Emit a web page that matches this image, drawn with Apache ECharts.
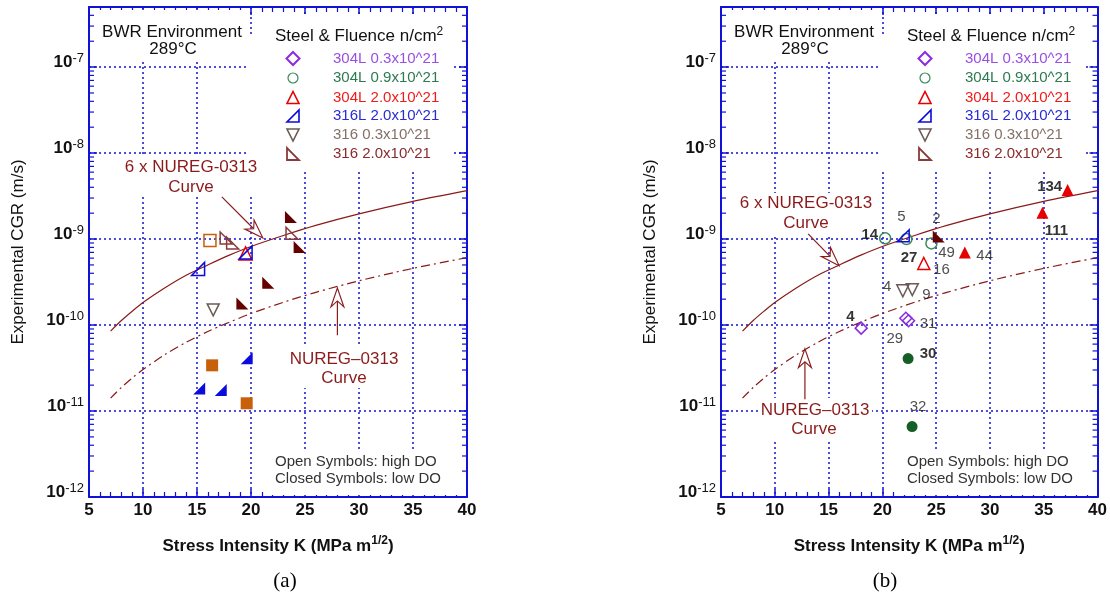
<!DOCTYPE html>
<html><head><meta charset="utf-8">
<script src="https://cdn.jsdelivr.net/npm/echarts@6/dist/echarts.min.js"></script>
<style>html,body{margin:0;padding:0;background:#fff}#c{width:1110px;height:599px}</style>
</head><body><div id="c"></div>
<script>
// ---------- data ----------
const xTickLabels = [5, 10, 15, 20, 25, 30, 35, 40];
const yDecades = [-12, -11, -10, -9, -8, -7];
const minorMult = [2, 3, 4, 5, 6, 7, 8, 9];

// curves
const curveK     = [7, 8, 9, 10, 12, 14, 16, 18, 20, 23, 26, 30, 35, 40];
const curve6x    = [8.5e-11, 1.13e-10, 1.45e-10, 1.83e-10, 2.7e-10, 3.8e-10, 5.0e-10, 6.5e-10, 8.2e-10, 1.1e-9, 1.44e-9, 1.96e-9, 2.74e-9, 3.65e-9];
const curveNureg = [1.41e-11, 1.88e-11, 2.42e-11, 3.04e-11, 4.5e-11, 6.3e-11, 8.4e-11, 1.08e-10, 1.36e-10, 1.84e-10, 2.4e-10, 3.27e-10, 4.56e-10, 6.08e-10];

// chart (a)
const a_304L20_open   = [[19.5, 6.8e-10]];
const a_316L20_open   = [[19.5, 7.0e-10], [15.1, 4.5e-10]];
const a_316L20_closed = [[19.6, 4.1e-11], [15.2, 1.83e-11], [17.2, 1.76e-11]];
const a_316_03_open   = [[16.5, 1.5e-10]];
const a_316_20_open   = [[17.7, 1.03e-9], [18.3, 9.0e-10], [23.8, 1.17e-9]];
const a_316_20_closed = [[23.7, 1.8e-9], [24.5, 8.1e-10], [21.6, 3.1e-10], [19.2, 1.78e-10]];
const a_other_open    = [[16.2, 9.6e-10]];
const a_other_closed  = [[16.4, 3.4e-11], [19.6, 1.23e-11]];
const a_arrows = [[17.3, 3.1e-9, 21.1, 1.03e-9], [28.0, 7.6e-11, 28.0, 2.7e-10]];

// chart (b)
const b_304L03_open   = [[18.03, 9.2e-11], [22.18, 1.2e-10], [22.43, 1.12e-10]];
const b_304L09_open   = [[20.26, 1.02e-9], [22.24, 1.0e-9], [24.56, 8.9e-10]];
const b_304L09_closed = [[22.39, 4.07e-11], [22.76, 6.6e-12]];
const b_304L20_open   = [[23.85, 5.2e-10]];
const b_304L20_closed = [[37.22, 3.73e-9], [34.88, 2.02e-9], [27.66, 7.0e-10]];
const b_316L20_open   = [[21.93, 1.09e-9]];
const b_316_03_open   = [[21.9, 2.5e-10], [22.78, 2.58e-10]];
const b_316_20_closed = [[25.24, 1.07e-9]];
const b_arrows = [[13.1, 1.15e-9, 15.98, 4.9e-10], [12.8, 1.37e-11, 12.8, 5.3e-11]];
const b_labelsBold   = [[35.55, 4.07e-9, '134'], [36.17, 1.26e-9, '111'], [18.83, 1.12e-9, '14'], [22.48, 6.1e-10, '27'], [17.04, 1.25e-10, '4'], [24.25, 4.57e-11, '30']];
const b_labelsNormal = [[21.78, 1.8e-9, '5'], [25.03, 1.7e-9, '2'], [25.96, 6.9e-10, '49'], [29.51, 6.3e-10, '44'], [25.49, 4.4e-10, '16'], [20.44, 2.78e-10, '4'], [24.1, 2.26e-10, '9'], [24.25, 1.02e-10, '31'], [21.16, 6.9e-11, '29'], [23.32, 1.12e-11, '32']];

const legendNames = ['304L 0.3x10^21', '304L 0.9x10^21', '304L 2.0x10^21', '316L 2.0x10^21', '316 0.3x10^21', '316 2.0x10^21'];

// ---------- styles ----------
const FONT = '"Liberation Sans", Arial, sans-serif';
const BLUE = '#1212d6';
const MAROON = '#8b1a1a';
const C = {
  purple: '#8a2be2', green: '#3a8a5a', greenF: '#155e26', red: '#e60000', blue: '#0b0bdd',
  greybr: '#6b5a55', maroonO: '#8b3a3a', maroonF: '#650000', orange: '#c85f0a'
};
const legendTextColors = ['#9a4fe0', '#2c7a50', '#f01c1c', '#2a2ad8', '#857068', '#8b2a2a'];
const SYM = {
  tri: 'triangle', diamond: 'diamond', circle: 'circle', rect: 'rect',
  lrt: 'path://M1,0L1,1L0,1Z', llt: 'path://M0,0L0,1L1,1Z', down: 'path://M0,0L1,0L0.5,1Z'
};

const grids = [
  { left: 89, right: 643, top: 7, bottom: 102 },
  { left: 721, right: 12, top: 7, bottom: 102 }
];

function xAxesFor(gi) {
  const base = {
    gridIndex: gi, type: 'value', min: 5, max: 40, interval: 5,
    axisLine: { show: true, onZero: false, lineStyle: { color: BLUE, width: 2 } },
    axisTick: { show: true, inside: true, length: 8, lineStyle: { color: BLUE, width: 1.5 } },
    minorTick: { show: true, splitNumber: 5, length: 5, lineStyle: { color: BLUE, width: 1.2 } }
  };
  return [
    Object.assign({}, base, {
      position: 'bottom',
      splitLine: { show: true, lineStyle: { color: BLUE, type: [2, 3], width: 1.5 } },
      axisLabel: { show: true, color: '#111', fontSize: 17, fontWeight: 'bold', fontFamily: FONT, margin: 5,
        formatter: v => xTickLabels.indexOf(v) >= 0 ? String(v) : '' },
      name: '{b|Stress Intensity K (MPa m}{s|1/2}{b|)}',
      nameLocation: 'middle', nameGap: 38,
      nameTextStyle: { rich: {
        b: { fontSize: 17, fontWeight: 'bold', fontFamily: FONT, color: '#111', lineHeight: 22 },
        s: { fontSize: 12, fontWeight: 'bold', fontFamily: FONT, color: '#111', lineHeight: 12, verticalAlign: 'top' }
      } }
    }),
    Object.assign({}, base, { position: 'top', splitLine: { show: false }, axisLabel: { show: false } })
  ];
}

function yAxesFor(gi) {
  const base = {
    gridIndex: gi, type: 'log', logBase: 10, min: 1e-12, max: 5e-7,
    axisLine: { show: true, onZero: false, lineStyle: { color: BLUE, width: 2 } },
    axisTick: { show: true, inside: true, length: 8, lineStyle: { color: BLUE, width: 1.5 } }
  };
  return [
    Object.assign({}, base, {
      position: 'left',
      splitLine: { show: true, lineStyle: { color: BLUE, type: [2, 3], width: 1.5 } },
      axisLabel: {
        show: true, margin: 5, padding: [0, 0, 9, 0],
        formatter: v => {
          const e = Math.log10(v), r = Math.round(e);
          if (Math.abs(e - r) > 1e-6 || yDecades.indexOf(r) < 0) return '';
          return '{b|10}{s|' + r + '}';
        },
        rich: {
          b: { fontSize: 17, fontWeight: 'bold', fontFamily: FONT, color: '#111', lineHeight: 22 },
          s: { fontSize: 13, fontFamily: FONT, color: '#111', lineHeight: 12, verticalAlign: 'top' }
        }
      },
      name: 'Experimental CGR (m/s)', nameLocation: 'middle', nameGap: 62,
      nameTextStyle: { fontSize: 17, fontFamily: FONT, color: '#111' }
    }),
    Object.assign({}, base, { position: 'right', splitLine: { show: false }, axisLabel: { show: false } })
  ];
}

function sc(gi, name, data, symbol, color, open, size) {
  return {
    type: 'scatter', name, xAxisIndex: gi * 2, yAxisIndex: gi * 2, data, symbol, symbolSize: size || 12,
    itemStyle: open ? { color: 'rgba(255,255,255,0)', borderColor: color, borderWidth: 1.5, opacity: 1 }
                    : { color, borderWidth: 0, opacity: 1 },
    z: 5, silent: true, animation: false
  };
}

function curves(gi) {
  return [
    { type: 'line', name: '6x NUREG-0313', xAxisIndex: gi * 2, yAxisIndex: gi * 2, showSymbol: false, smooth: 0.3,
      data: curveK.map((k, i) => [k, curve6x[i]]), lineStyle: { color: MAROON, width: 1.2 }, z: 3, silent: true, animation: false },
    { type: 'line', name: 'NUREG-0313', xAxisIndex: gi * 2, yAxisIndex: gi * 2, showSymbol: false, smooth: 0.3,
      data: curveK.map((k, i) => [k, curveNureg[i]]), lineStyle: { color: MAROON, width: 1.2, type: [9, 4, 2, 4] }, z: 3, silent: true, animation: false }
  ];
}

const minorData = [];
yDecades.forEach(d => minorMult.forEach(m => { const v = m * Math.pow(10, d); if (v <= 5e-7) minorData.push([5, v]); }));

function minorTicks(gi) {
  return {
    type: 'custom', xAxisIndex: gi * 2, yAxisIndex: gi * 2, data: minorData, silent: true, clip: false, z: 6, animation: false,
    encode: { x: 0, y: 1 },
    renderItem: (params, api) => {
      const v = api.value(1);
      const pL = api.coord([5, v]), pR = api.coord([40, v]);
      return { type: 'group', children: [
        { type: 'line', shape: { x1: pL[0], y1: pL[1], x2: pL[0] + 5, y2: pL[1] }, style: { stroke: BLUE, lineWidth: 1.2 } },
        { type: 'line', shape: { x1: pR[0] - 5, y1: pR[1], x2: pR[0], y2: pR[1] }, style: { stroke: BLUE, lineWidth: 1.2 } }
      ] };
    }
  };
}

function arrows(gi, data) {
  return {
    type: 'custom', xAxisIndex: gi * 2, yAxisIndex: gi * 2, data, silent: true, clip: false, z: 4, animation: false,
    encode: { x: [0, 2], y: [1, 3] },
    renderItem: (params, api) => {
      const s = api.coord([api.value(0), api.value(1)]);
      const t = api.coord([api.value(2), api.value(3)]);
      const dx = t[0] - s[0], dy = t[1] - s[1], len = Math.hypot(dx, dy);
      const ux = dx / len, uy = dy / len, px = -uy, py = ux;
      const L = 19, W = 6.5, N = 13;
      const bx = t[0] - ux * L, by = t[1] - uy * L, nx = t[0] - ux * N, ny = t[1] - uy * N;
      return { type: 'group', children: [
        { type: 'line', shape: { x1: s[0], y1: s[1], x2: nx, y2: ny }, style: { stroke: MAROON, lineWidth: 1.2 } },
        { type: 'polygon', shape: { points: [[t[0], t[1]], [bx + px * W, by + py * W], [nx, ny], [bx - px * W, by - py * W]] },
          style: { fill: '#fff', stroke: MAROON, lineWidth: 1.1 } }
      ] };
    }
  };
}

function labelSeries(gi, list, bold) {
  return {
    type: 'scatter', xAxisIndex: gi * 2, yAxisIndex: gi * 2, symbolSize: 1, silent: true, z: 7, animation: false,
    itemStyle: { color: 'rgba(0,0,0,0)' },
    data: list.map(d => ({ value: [d[0], d[1]], name: d[2] })),
    label: { show: true, position: 'inside', formatter: '{b}', fontFamily: FONT, fontSize: 15,
      fontWeight: bold ? 'bold' : 'normal', color: bold ? '#000' : '#222' }
  };
}

// ---------- graphics (text blocks, legend) ----------
function txt(x, y, text, o) {
  o = o || {};
  return { type: 'text', x, y, z: 10, silent: true, style: {
    text, fill: o.color || '#111', fontSize: o.size || 17, fontFamily: o.family || FONT, fontWeight: o.weight || 'normal',
    align: o.align || 'center', verticalAlign: 'middle', rich: o.rich } };
}
function box(x, y, w, h) {
  return { type: 'rect', z: 1, silent: true, shape: { x, y, width: w, height: h }, style: { fill: '#fff' } };
}
function poly(pts, stroke, lw) {
  return { type: 'polygon', z: 10, silent: true, shape: { points: pts }, style: { fill: 'none', stroke, lineWidth: lw || 1.5 } };
}

function chartGraphics(ox, sixBox, nuBox) {
  const g = [];
  g.push(box(95 + ox, 10, 151, 50));
  g.push(box(268 + ox, 14, 196, 23));
  g.push(box(246 + ox, 37, 206, 133));
  g.push(box(sixBox[0], sixBox[1], sixBox[2], sixBox[3]));
  g.push(box(nuBox[0], nuBox[1], nuBox[2], nuBox[3]));
  g.push(box(270 + ox, 452, 195, 43));
  g.push(txt(172 + ox, 32, 'BWR Environment'));
  g.push(txt(173 + ox, 49, '289°C'));
  g.push(txt(275 + ox, 36, '{a|Steel & Fluence n/cm}{s|2}', { align: 'left', rich: {
    a: { fontSize: 17, fontFamily: FONT, color: '#111', lineHeight: 20 },
    s: { fontSize: 12, fontFamily: FONT, color: '#111', lineHeight: 12, verticalAlign: 'top' } } }));
  const r = [58.5, 78, 97.5, 116, 135, 154];
  const sx = 293 + ox;
  g.push(poly([[sx, r[0] - 6.5], [sx + 6.5, r[0]], [sx, r[0] + 6.5], [sx - 6.5, r[0]]], C.purple, 2));
  g.push({ type: 'circle', z: 10, silent: true, shape: { cx: sx, cy: r[1], r: 5 }, style: { fill: 'none', stroke: C.green, lineWidth: 1.2 } });
  g.push(poly([[sx, r[2] - 6], [sx + 6, r[2] + 6], [sx - 6, r[2] + 6]], C.red, 1.6));
  g.push(poly([[sx + 6, r[3] - 6], [sx + 6, r[3] + 6], [sx - 6, r[3] + 6]], C.blue, 1.6));
  g.push(poly([[sx - 6, r[4] - 6], [sx + 6, r[4] - 6], [sx, r[4] + 6]], C.greybr, 1.6));
  g.push(poly([[sx - 6, r[5] - 6], [sx - 6, r[5] + 6], [sx + 6, r[5] + 6]], C.maroonO, 1.8));
  legendNames.forEach((n, i) => g.push(txt(333 + ox, r[i], n, { align: 'left', size: 15, color: legendTextColors[i] })));
  g.push(txt(275 + ox, 462, 'Open Symbols: high DO', { align: 'left', size: 15, color: '#333' }));
  g.push(txt(275 + ox, 479, 'Closed Symbols: low DO', { align: 'left', size: 15, color: '#333' }));
  return g;
}

const graphics = []
  .concat(chartGraphics(0, [122, 157, 138, 40], [288, 347, 112, 41]))
  .concat(chartGraphics(632, [740, 193, 133, 42], [758, 398, 114, 42]))
  .concat([
    txt(191, 167, '6 x NUREG-0313', { color: MAROON }), txt(191, 187, 'Curve', { color: MAROON }),
    txt(344, 359, 'NUREG\u20130313', { color: MAROON }), txt(344, 378, 'Curve', { color: MAROON }),
    txt(806, 203, '6 x NUREG-0313', { color: MAROON }), txt(806, 223, 'Curve', { color: MAROON }),
    txt(815, 410, 'NUREG\u20130313', { color: MAROON }), txt(814, 429, 'Curve', { color: MAROON }),
    txt(285, 581, '(a)', { family: '"Liberation Serif", "Times New Roman", serif', size: 21, color: '#000' }),
    txt(885, 581, '(b)', { family: '"Liberation Serif", "Times New Roman", serif', size: 21, color: '#000' })
  ]);

const series = [
  // chart (a)
  ...curves(0),
  sc(0, '304L 2.0x10^21', a_304L20_open, SYM.tri, C.red, true, 13),
  sc(0, '316L 2.0x10^21', a_316L20_open, SYM.lrt, C.blue, true, 13),
  sc(0, '316L 2.0x10^21 closed', a_316L20_closed, SYM.lrt, C.blue, false, 12),
  sc(0, '316 0.3x10^21', a_316_03_open, SYM.down, C.greybr, true, 12),
  sc(0, '316 2.0x10^21', a_316_20_open, SYM.llt, C.maroonO, true, 12),
  sc(0, '316 2.0x10^21 closed', a_316_20_closed, SYM.llt, C.maroonF, false, 12),
  sc(0, 'other open', a_other_open, SYM.rect, C.orange, true, 12),
  sc(0, 'other closed', a_other_closed, SYM.rect, C.orange, false, 12),
  arrows(0, a_arrows),
  minorTicks(0),
  // chart (b)
  ...curves(1),
  sc(1, '304L 0.3x10^21', b_304L03_open, SYM.diamond, C.purple, true, 12),
  sc(1, '304L 0.9x10^21', b_304L09_open, SYM.circle, C.green, true, 11),
  sc(1, '304L 0.9x10^21 closed', b_304L09_closed, SYM.circle, C.greenF, false, 11),
  sc(1, '304L 2.0x10^21', b_304L20_open, SYM.tri, C.red, true, 12),
  sc(1, '304L 2.0x10^21 closed', b_304L20_closed, SYM.tri, C.red, false, 12),
  sc(1, '316L 2.0x10^21', b_316L20_open, SYM.lrt, C.blue, true, 12),
  sc(1, '316 0.3x10^21', b_316_03_open, SYM.down, C.greybr, true, 12),
  sc(1, '316 2.0x10^21 closed', b_316_20_closed, SYM.llt, C.maroonF, false, 12),
  arrows(1, b_arrows),
  labelSeries(1, b_labelsBold, true),
  labelSeries(1, b_labelsNormal, false),
  minorTicks(1)
];

const chart = echarts.init(document.getElementById('c'), null, { renderer: 'canvas' });
chart.setOption({
  backgroundColor: '#fff',
  animation: false,
  grid: grids,
  xAxis: [...xAxesFor(0), ...xAxesFor(1)],
  yAxis: [...yAxesFor(0), ...yAxesFor(1)],
  series,
  graphic: { elements: graphics }
});
</script>
</body></html>
